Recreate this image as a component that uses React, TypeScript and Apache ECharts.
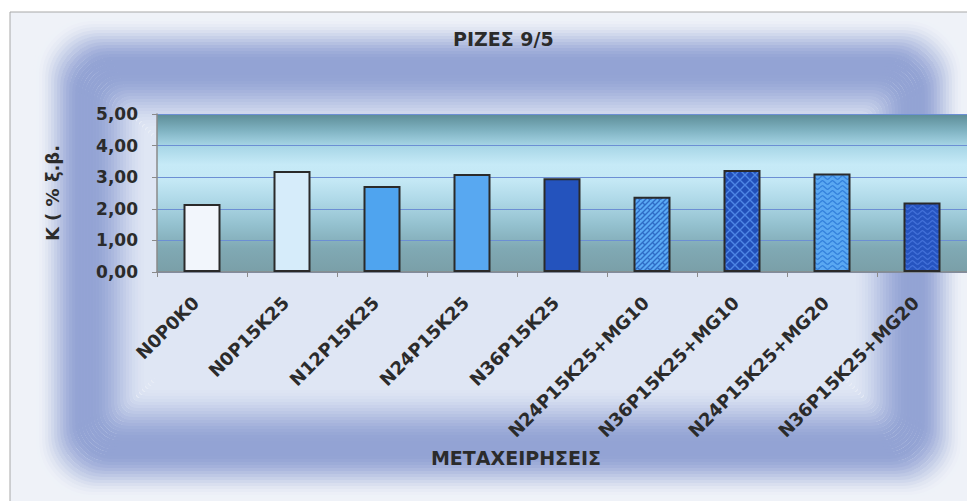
import React, { useEffect, useRef } from "react";
import * as echarts from "echarts";

const titleText = "ΡΙΖΕΣ 9/5";
const xAxisTitle = "ΜΕΤΑΧΕΙΡΗΣΕΙΣ";
const yAxisTitle = "K ( % ξ.β.";
const categories = [
  "N0P0K0",
  "N0P15K25",
  "N12P15K25",
  "N24P15K25",
  "N36P15K25",
  "N24P15K25+MG10",
  "N36P15K25+MG10",
  "N24P15K25+MG20",
  "N36P15K25+MG20",
];
const values = [2.15, 3.2, 2.72, 3.1, 2.97, 2.38, 3.23, 3.12, 2.2];
// fill kind per bar: plain colour or a pattern
const barFills = [
  { kind: "solid", base: "#F2F6FC", ink: "" },
  { kind: "solid", base: "#D6ECFA", ink: "" },
  { kind: "solid", base: "#4FA4EF", ink: "" },
  { kind: "solid", base: "#58A8F1", ink: "" },
  { kind: "solid", base: "#2453BD", ink: "" },
  { kind: "brick", base: "#5AAAF5", ink: "#2F6CC6" },
  { kind: "lattice", base: "#2250BA", ink: "#4E86E4" },
  { kind: "wave", base: "#5AA8F2", ink: "#3582DC" },
  { kind: "wave", base: "#2654C0", ink: "#4270D8" },
];

const FONT = "'DejaVu Sans', Verdana, sans-serif";

function makePattern(kind: string, base: string, ink: string): any {
  const c = document.createElement("canvas");
  const s = 10;
  c.width = s;
  c.height = s;
  const g = c.getContext("2d")!;
  g.fillStyle = base;
  g.fillRect(0, 0, s, s);
  g.strokeStyle = ink;
  g.lineWidth = 1.4;
  if (kind === "brick") {
    g.beginPath();
    g.moveTo(-2, s + 2);
    g.lineTo(s + 2, -2);
    g.moveTo(-2, s / 2 + 2);
    g.lineTo(s / 2 + 2, -2);
    g.moveTo(s / 2 - 2, s + 2);
    g.lineTo(s + 2, s / 2 - 2);
    g.moveTo(s * 0.25, s * 0.25);
    g.lineTo(s * 0.5, s * 0.5);
    g.moveTo(s * 0.75, s * 0.75);
    g.lineTo(s, s);
    g.stroke();
  } else if (kind === "lattice") {
    g.beginPath();
    g.moveTo(-1, s + 1);
    g.lineTo(s + 1, -1);
    g.moveTo(-1, -1);
    g.lineTo(s + 1, s + 1);
    g.stroke();
  } else if (kind === "wave") {
    g.beginPath();
    for (let row = 0; row < 2; row++) {
      const y0 = 2.5 + row * 5;
      g.moveTo(0, y0);
      g.bezierCurveTo(2.5, y0 - 2.5, 2.5, y0 - 2.5, 5, y0);
      g.bezierCurveTo(7.5, y0 + 2.5, 7.5, y0 + 2.5, 10, y0);
    }
    g.stroke();
  }
  return { image: c, repeat: "repeat" };
}

function hex(c: string) {
  return [parseInt(c.slice(1, 3), 16), parseInt(c.slice(3, 5), 16), parseInt(c.slice(5, 7), 16)];
}
function mix(a: string, b: string, t: number) {
  const A = hex(a);
  const B = hex(b);
  const r = A.map((v, i) => Math.round(v + (B[i] - v) * t));
  return `rgb(${r[0]},${r[1]},${r[2]})`;
}

// blurred frame made of concentric rounded-rect strokes
function buildFrame(): any[] {
  const outer = "#EFF2F8";
  const band = "#93A3D4";
  const inner = "#DFE6F4";
  const x0 = 86, y0 = 68, x1 = 914, y1 = 448;
  const els: any[] = [
    {
      type: "rect",
      z: -20,
      silent: true,
      shape: { x: 10, y: 12, width: 970, height: 500 },
      style: { fill: outer, stroke: "#A8A8A8", lineWidth: 1 },
    },
  ];
  const step = 3;
  for (let o = -51; o <= 66; o += step) {
    const d = Math.abs(o);
    let t = Math.max(0, Math.min(1, (d - 6) / (o < 0 ? 44 : 56)));
    t = t * t * (3 - 2 * t);
    const col = mix(band, o < 0 ? outer : inner, t);
    els.push({
      type: "rect",
      z: -19,
      silent: true,
      shape: {
        x: x0 + o,
        y: y0 + o,
        width: x1 - x0 - 2 * o,
        height: y1 - y0 - 2 * o,
        r: Math.max(6, 30 - o * 0.5),
      },
      style: { fill: null, stroke: col, lineWidth: step + 0.8 },
    });
  }
  els.push({
    type: "rect",
    z: -18,
    silent: true,
    shape: { x: x0 + 67, y: y0 + 67, width: x1 - x0 - 134, height: y1 - y0 - 134, r: 6 },
    style: { fill: inner },
  });
  return els;
}

export default function App() {
  const ref = useRef<HTMLDivElement>(null);
  useEffect(() => {
    if (!ref.current) return;
    const chart = echarts.init(ref.current, null, { renderer: "svg" });
    const data = values.map((v, i) => {
      const f = barFills[i];
      const color = f.kind === "solid" ? f.base : makePattern(f.kind, f.base, f.ink);
      return { value: v, itemStyle: { color } };
    });
    const option: any = {
      animation: false,
      backgroundColor: "#ffffff",
      title: {
        text: titleText,
        left: 448,
        top: 24,
        textStyle: { fontFamily: FONT, fontSize: 19, fontWeight: "bold", color: "#2b2b2b" },
      },
      graphic: [
        ...buildFrame(),
        {
          type: "text",
          z: 5,
          silent: true,
          x: 516,
          y: 458,
          style: {
            text: xAxisTitle,
            fontFamily: FONT,
            fontSize: 19,
            fontWeight: "bold",
            fill: "#2b2b2b",
            align: "center",
            verticalAlign: "middle",
          },
        },
      ],
      grid: {
        left: 157,
        right: -1,
        top: 114,
        bottom: 229,
        show: true,
        borderWidth: 0,
        backgroundColor: {
          type: "linear",
          x: 0,
          y: 0,
          x2: 0,
          y2: 1,
          colorStops: [
            { offset: 0, color: "#5C8C96" },
            { offset: 0.1, color: "#7EB1C0" },
            { offset: 0.2, color: "#A6D5E6" },
            { offset: 0.32, color: "#C6EAF7" },
            { offset: 0.42, color: "#C4E8F5" },
            { offset: 0.55, color: "#AED8E7" },
            { offset: 0.7, color: "#94C1CF" },
            { offset: 0.85, color: "#80A9B4" },
            { offset: 1, color: "#7A9FA8" },
          ],
        },
      },
      xAxis: {
        type: "category",
        data: categories,
        axisLine: { lineStyle: { color: "#8A8A8A", width: 1.5 } },
        axisTick: { show: true, length: 5, lineStyle: { color: "#8A8A8A" } },
        axisLabel: {
          interval: 0,
          rotate: 45,
          margin: 34,
          verticalAlign: "bottom",
          fontFamily: FONT,
          fontSize: 18,
          fontWeight: "bold",
          color: "#2b2b2b",
        },
      },
      yAxis: {
        type: "value",
        min: 0,
        max: 5,
        interval: 1,
        name: yAxisTitle,
        nameLocation: "middle",
        nameGap: 96,
        nameRotate: 90,
        nameTextStyle: { fontFamily: FONT, fontSize: 18, fontWeight: "bold", color: "#2b2b2b" },
        axisLine: { show: true, lineStyle: { color: "#8A8A8A", width: 1.5 } },
        axisTick: { show: true, length: 5, lineStyle: { color: "#8A8A8A" } },
        axisLabel: {
          margin: 19,
          fontFamily: FONT,
          fontSize: 17,
          fontWeight: "bold",
          color: "#2b2b2b",
          formatter: (v: number) => v.toFixed(2).replace(".", ","),
        },
        splitLine: { show: true, lineStyle: { color: "#6C8FD4", width: 1 } },
      },
      series: [
        {
          type: "bar",
          data,
          barWidth: 37,
          itemStyle: { borderColor: "#2a2a2a", borderWidth: 2 },
        },
      ],
    };
    chart.setOption(option);
    return () => chart.dispose();
  }, []);
  return (
    <div
      ref={ref}
      style={{ position: "absolute", left: 0, top: 0, width: 967, height: 501 }}
    />
  );
}
